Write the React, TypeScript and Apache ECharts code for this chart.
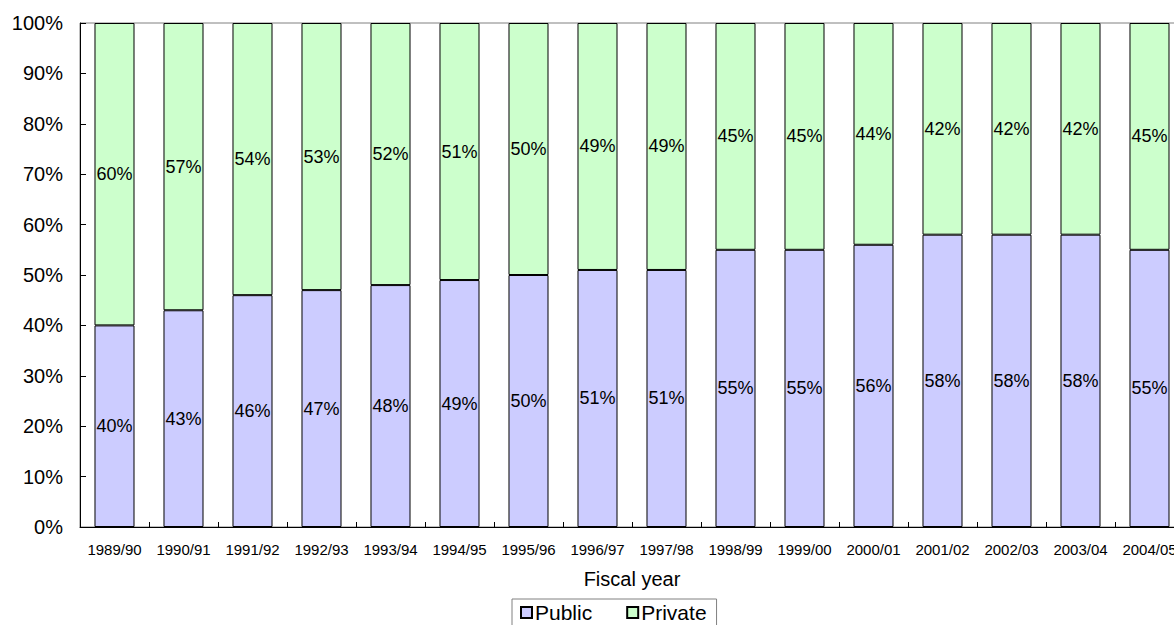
import React, { useEffect, useRef } from "react";
import * as echarts from "echarts";

const years = [
  "1989/90", "1990/91", "1991/92", "1992/93", "1993/94", "1994/95", "1995/96", "1996/97",
  "1997/98", "1998/99", "1999/00", "2000/01", "2001/02", "2002/03", "2003/04", "2004/05",
];
const publicShare = [40, 43, 46, 47, 48, 49, 50, 51, 51, 55, 55, 56, 58, 58, 58, 55];
const privateShare = [60, 57, 54, 53, 52, 51, 50, 49, 49, 45, 45, 44, 42, 42, 42, 45];

const FONT = "'Liberation Sans', Arial, sans-serif";

export default function App() {
  const ref = useRef<HTMLDivElement>(null);

  useEffect(() => {
    if (!ref.current) return;
    const chart = echarts.init(ref.current, undefined, { renderer: "svg" });
    const label = {
      show: true,
      position: "inside",
      formatter: (p: any) => `${p.value}%`,
      color: "#000",
      fontFamily: FONT,
      fontSize: 18,
    };
    chart.setOption({
      animation: false,
      textStyle: { fontFamily: FONT },
      grid: {
        left: 80,
        top: 23,
        right: 0,
        bottom: 98,
        show: true,
        borderColor: "#808080",
        borderWidth: 1,
      },
      legend: {
        left: 512,
        top: 599,
        itemWidth: 11,
        itemHeight: 11,
        itemGap: 34,
        padding: [3, 10, 6, 8],
        borderColor: "#808080",
        borderWidth: 1,
        icon: "rect",
        textStyle: { fontFamily: FONT, fontSize: 21, color: "#000", padding: [0, 0, 0, -2] },
        data: ["Public", "Private"],
      },
      xAxis: {
        type: "category",
        data: years,
        name: "Fiscal year",
        nameLocation: "middle",
        nameGap: 42,
        nameTextStyle: { fontFamily: FONT, fontSize: 20, color: "#000" },
        axisLine: { lineStyle: { color: "#000", width: 1 } },
        axisTick: { show: true, inside: true, length: 5, lineStyle: { color: "#000" } },
        axisLabel: { fontFamily: FONT, fontSize: 15, color: "#000", margin: 15, interval: 0 },
      },
      yAxis: {
        type: "value",
        min: 0,
        max: 100,
        interval: 10,
        axisLine: { show: true, lineStyle: { color: "#000", width: 1 } },
        axisTick: { show: true, inside: true, length: 6, lineStyle: { color: "#000" } },
        axisLabel: { formatter: "{value}%", fontFamily: FONT, fontSize: 20, color: "#000", margin: 17 },
        splitLine: { show: false },
      },
      series: [
        {
          name: "Public",
          type: "bar",
          stack: "share",
          data: publicShare,
          barCategoryGap: "42%",
          itemStyle: { color: "#CCCCFF", borderColor: "#000", borderWidth: 1 },
          label,
        },
        {
          name: "Private",
          type: "bar",
          stack: "share",
          data: privateShare,
          barCategoryGap: "42%",
          itemStyle: { color: "#CCFFCC", borderColor: "#000", borderWidth: 1 },
          label,
        },
      ],
    });
    return () => chart.dispose();
  }, []);

  // The plot runs slightly past the right edge of the visible frame.
  return (
    <div
      style={{
        position: "fixed",
        left: 0,
        top: 0,
        width: 1174,
        height: 625,
        overflow: "hidden",
        background: "#fff",
      }}
    >
      <div ref={ref} style={{ width: 1184, height: 625 }} />
    </div>
  );
}
